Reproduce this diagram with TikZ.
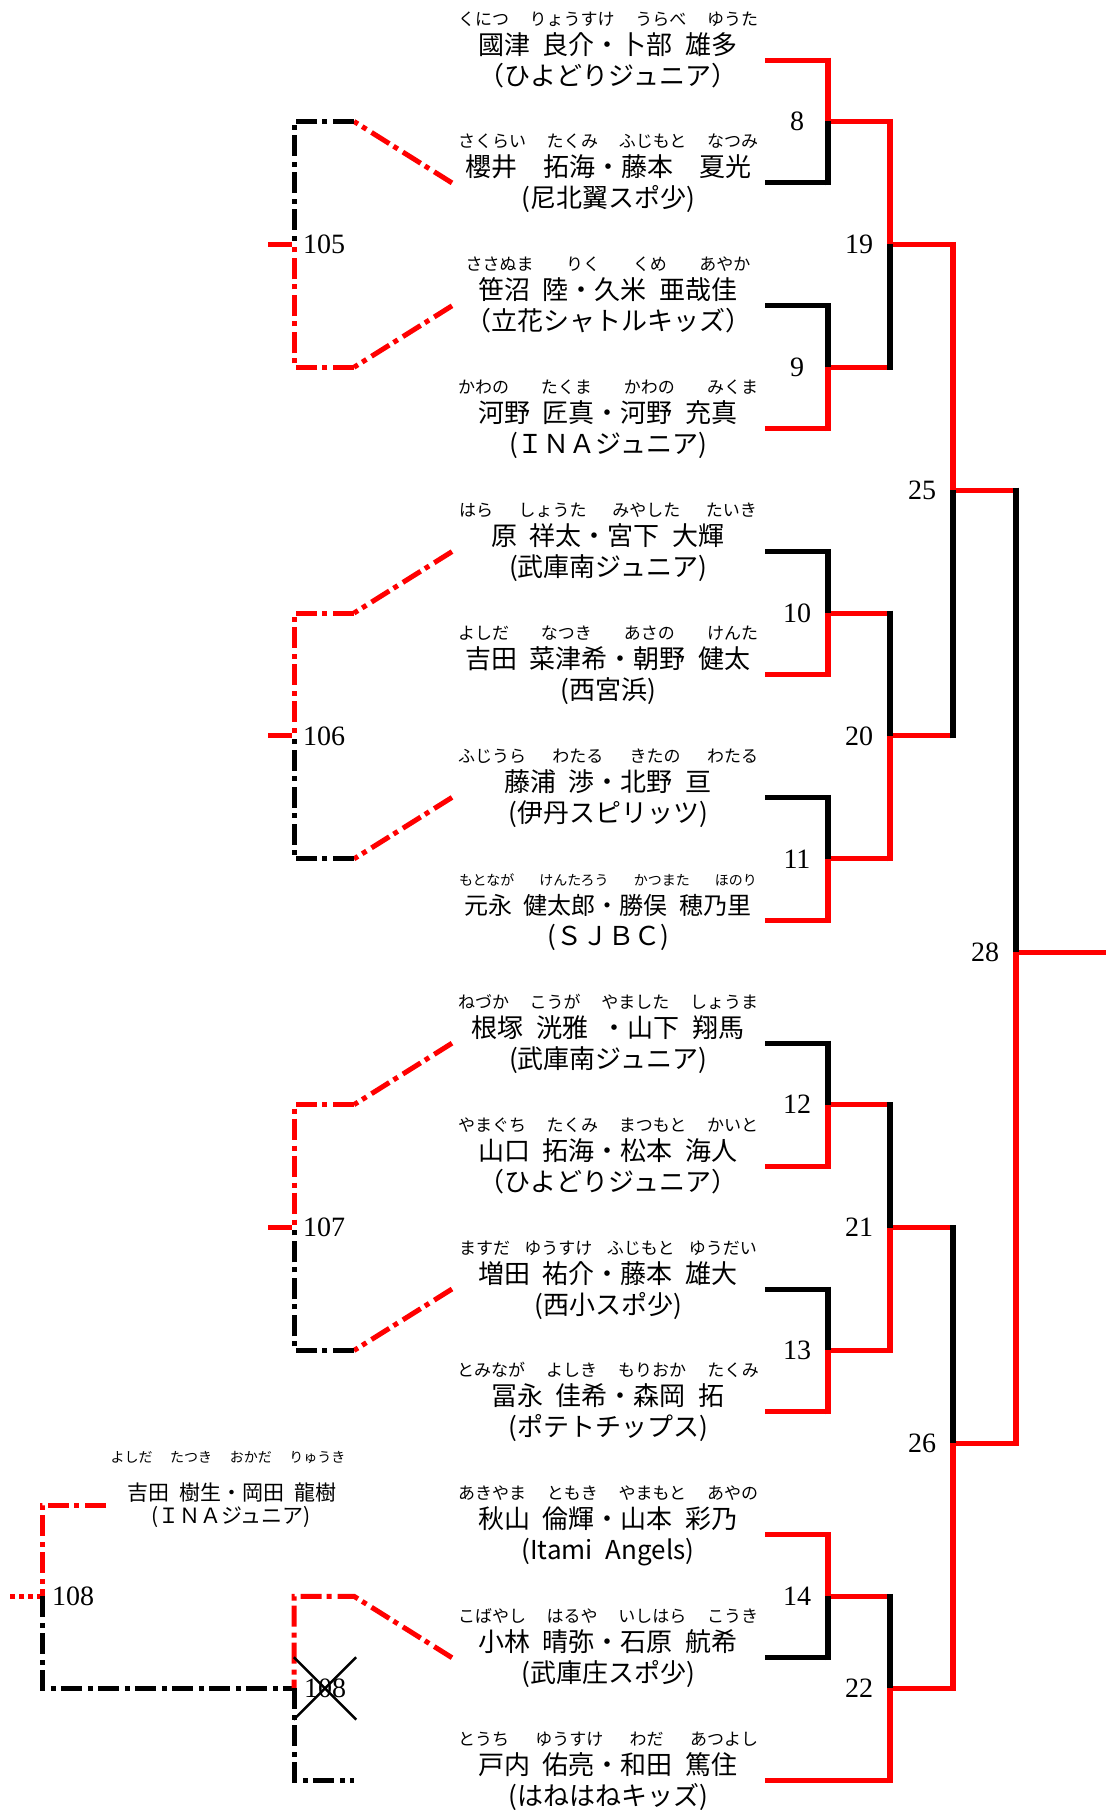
\documentclass[tikz,border=0pt]{standalone}
\usepackage{fontspec}
\setmainfont{Noto Sans CJK JP}[WordSpace=2.2]
\newfontfamily\numfont{Liberation Serif}
\usepackage{tikz}
\usetikzlibrary{calc}

\newcommand{\yomisize}{\fontsize{17}{17}\selectfont}
\newcommand{\namesize}{\fontsize{26}{26}\selectfont}
% one leg of a bracket: across to the column of #3, then down/up into #3
\newcommand{\leg}[5][]{%
  \draw[bh,#4,#1] (#2) -- (#2 -| #3);
  \draw[bv,#5] (#2 -| #3) -- (#3);}

\begin{document}
\begin{tikzpicture}[x=1pt, y=-1pt,
  every node/.style={inner sep=0pt},
  yomi/.style={font=\yomisize, anchor=base},
  pname/.style={font=\namesize, anchor=base},
  club/.style={font=\namesize, anchor=base},
  numlbl/.style={font=\numfont\fontsize{28}{28}\selectfont},
  bh/.style={line width=5pt},
  bv/.style={line width=6pt, shorten <=-2.5pt},
  cons/.style={line width=5pt, dash pattern=on 21pt off 6pt on 5pt off 5pt},
  fromm/.style={shorten <=3pt}
]
  \useasboundingbox (0,0) rectangle (1106,1810);

  % columns
  \coordinate (col1) at (828,0);
  \coordinate (col2) at (890,0);
  \coordinate (col3) at (953,0);
  \coordinate (col4) at (1016,0);
  \coordinate (fin) at (1106,0);
  \coordinate (qx) at (354,0);
  \coordinate (vx) at (294,0);
  \coordinate (sx) at (268,0);
  \coordinate (wx) at (42,0);
  \coordinate (tx) at (10,0);

  % players
  \foreach \i/\yw/\kana/\nm/\club [evaluate=\i as \y using 60+122.9*\i] in {
    0/300/くにつ りょうすけ うらべ ゆうた/國津 良介・卜部 雄多/（ひよどりジュニア）,
    1/300/さくらい たくみ ふじもと なつみ/櫻井　拓海・藤本　夏光/(尼北翼スポ少),
    2/285/ささぬま りく くめ あやか/笹沼 陸・久米 亜哉佳/（立花シャトルキッズ）,
    3/300/かわの たくま かわの みくま/河野 匠真・河野 充真/(ＩＮＡジュニア),
    4/298/はら しょうた みやした たいき/原 祥太・宮下 大輝/(武庫南ジュニア),
    5/300/よしだ なつき あさの けんた/吉田 菜津希・朝野 健太/(西宮浜),
    6/300/ふじうら わたる きたの わたる/藤浦 渉・北野 亘/(伊丹スピリッツ),
    7/298/\fontsize{14}{14}\selectfont もとなが けんたろう かつまた ほのり/\fontsize{24}{24}\selectfont 元永 健太郎・勝俣 穂乃里/(ＳＪＢＣ),
    8/300/ねづか こうが やました しょうま/根塚 洸雅 ・山下 翔馬/(武庫南ジュニア),
    9/300/やまぐち たくみ まつもと かいと/山口 拓海・松本 海人/（ひよどりジュニア）,
    10/298/ますだ ゆうすけ ふじもと ゆうだい/増田 祐介・藤本 雄大/(西小スポ少),
    11/302/とみなが よしき もりおか たくみ/冨永 佳希・森岡 拓/(ポテトチップス),
    12/300/あきやま ともき やまもと あやの/秋山 倫輝・山本 彩乃/(Itami Angels),
    13/300/こばやし はるや いしはら こうき/小林 晴弥・石原 航希/(武庫庄スポ少),
    14/300/とうち ゆうすけ わだ あつよし/戸内 佑亮・和田 篤住/(はねはねキッズ)
  }{
    \coordinate (e\i) at (765,\y);
    \coordinate (l\i) at (452,\y);
    \node[yomi] (r\i) at (608,\y-35) {\makebox[\yw pt][s]{\kana}};
    \node[pname] (n\i) at (608,\y-6) {\nm};
    \node[club] (cl\i) at (608,\y+25) {\club};
  }

  % match points
  \foreach \m/\a/\b/\col/\r in {8/e0/e1/col1/.5, 9/e2/e3/col1/.5,
      10/e4/e5/col1/.5, 11/e6/e7/col1/.5, 12/e8/e9/col1/.5,
      13/e10/e11/col1/.5, 14/e12/e13/col1/.5,
      19/m8/m9/col2/.5, 20/m10/m11/col2/.5, 21/m12/m13/col2/.5,
      22/m14/e14/col2/.5, 25/m19/m20/col3/.5, 26/m21/m22/col3/.4675,
      28/m25/m26/col4/.4847}
    \coordinate (m\m) at ($(\a -| \col)!\r!(\b -| \col)$);

  % main draw
  \foreach \a/\b/\vc in {e0/m8/red, e1/m8/black, e2/m9/black, e3/m9/red,
      e4/m10/black, e5/m10/red, e6/m11/black, e7/m11/red,
      e8/m12/black, e9/m12/red, e10/m13/black, e11/m13/red,
      e12/m14/red, e13/m14/black, e14/m22/red}
    {\leg{\a}{\b}{\vc}{\vc}}
  \foreach \a/\b/\vc in {m8/m19/red, m9/m19/black, m10/m20/black, m11/m20/red,
      m12/m21/black, m13/m21/red, m14/m22/black,
      m19/m25/red, m20/m25/black, m21/m26/black, m22/m26/red,
      m25/m28/black, m26/m28/red}
    {\leg[fromm]{\a}{\b}{red}{\vc}}
  \draw[bh,red,fromm] (m28) -- (m28 -| fin);

  \foreach \m in {8,9,10,11,12,13,14,19,20,21,22,25,26,28}
    \node[numlbl] (mt\m) at ([xshift=-31pt]m\m) {\m};

  % consolation
  \foreach \lab/\a/\b/\ma/\mb/\mr/\ct/\cb in {105/l1/l2/m8/m9/m19/black/red,
      106/l4/l6/m10/m11/m20/red/black, 107/l8/l10/m12/m13/m21/red/black}{
    \draw[bh,red,shorten <=2.5pt] (\mr -| vx) -- (\mr -| sx);
    \draw[cons,red] (\a) -- (\ma -| qx);
    \draw[cons,\ct] (\ma -| qx) -- (\ma -| vx) -- (\mr -| vx);
    \draw[cons,red] (\b) -- (\mb -| qx);
    \draw[cons,\cb] (\mb -| qx) -- (\mb -| vx) -- (\mr -| vx);
    \node[numlbl, anchor=west, xshift=9pt] (lab\lab) at (\mr -| vx) {\lab};
  }

  % 108
  \coordinate (e15) at (106,1505);
  \node[yomi, font=\fontsize{14}{14}\selectfont] (r15) at (228,1462)
    {\makebox[235pt][s]{よしだ たつき おかだ りゅうき}};
  \node[pname, font=\fontsize{21}{21}\selectfont] (n15) at (232,1500) {吉田 樹生・岡田 龍樹};
  \node[club, font=\fontsize{21}{21}\selectfont] (cl15) at (231,1523) {(ＩＮＡジュニア)};
  \draw[red, line width=5pt, dash pattern=on 5pt off 4pt] (wx |- m14) -- (tx |- m14);
  \draw[cons,red] (e15) -- (e15 -| wx) -- (wx |- m14);
  \draw[cons] (wx |- m14) -- (wx |- m22) -- (vx |- m22);
  \node[numlbl, anchor=west, xshift=10pt] (lab108) at (wx |- m14) {108};
  \draw[cons,red] (l13) -- (qx |- m14) -- (vx |- m14) -- (vx |- m22);
  \draw[cons] (vx |- m22) -- (vx |- e14) -- (qx |- e14);
  \node[numlbl, minimum size=62pt, xshift=31pt] (x108) at (vx |- m22) {108};
  \draw[line width=2.5pt] (x108.north west) -- (x108.south east)
    (x108.south west) -- (x108.north east);
\end{tikzpicture}
\end{document}
